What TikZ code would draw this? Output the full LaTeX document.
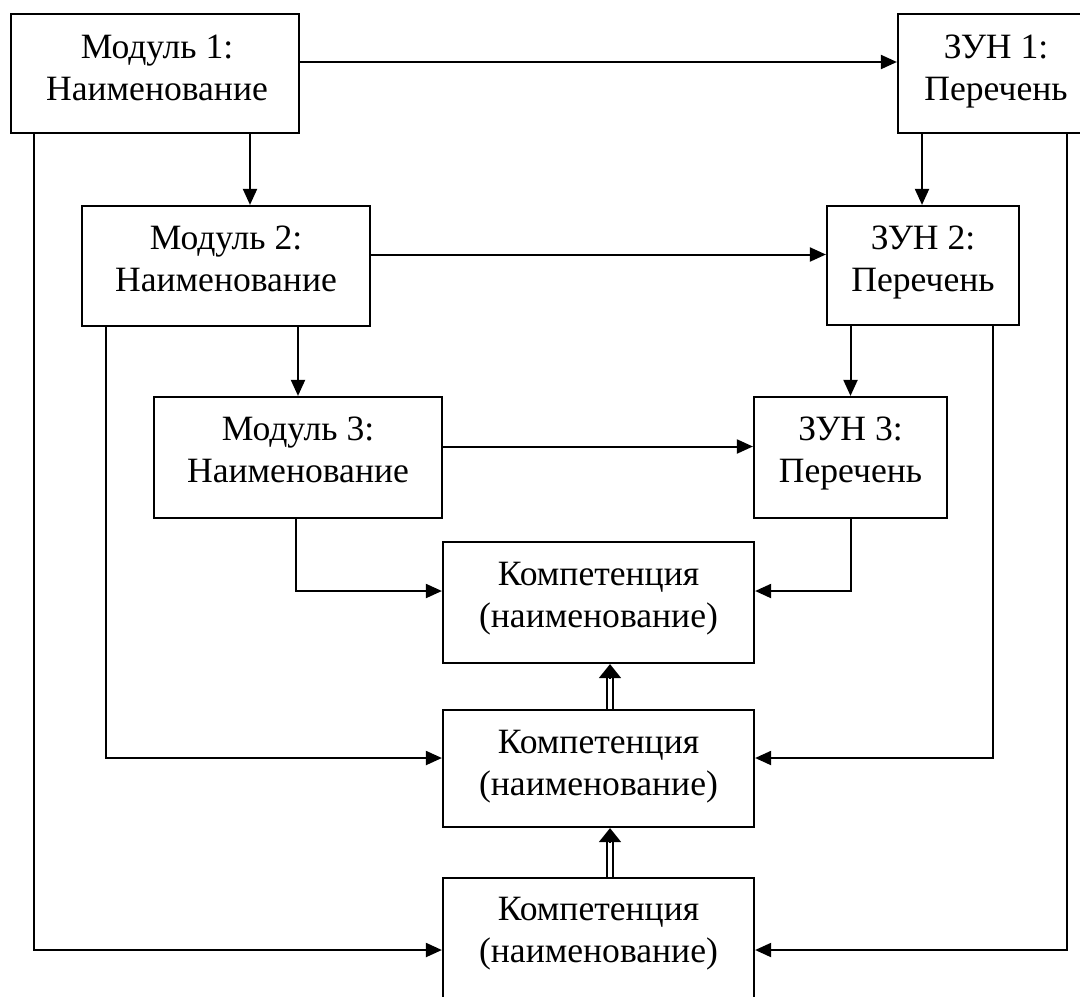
\documentclass[tikz,border=0pt]{standalone}
\usepackage{fontspec}
\setmainfont{Liberation Serif}
\usetikzlibrary{arrows.meta,calc}
\begin{document}
\begin{tikzpicture}[x=0.5pt,y=-0.5pt,
  box/.style={draw, line width=1.1pt, inner sep=0pt, rectangle},
  lbl/.style={anchor=base, align=center, inner sep=0pt, font=\fontsize{17.8}{21}\selectfont},
  arr/.style={line width=1pt, -{Triangle[length=8pt,width=7pt]}},
  dbl/.style={double, double distance=1.8pt, line width=0.9pt, shorten >=6.5pt},
  dtip/.style={line width=0.9pt, -{Triangle[length=7pt,width=11pt]}}
]
\useasboundingbox (0,0) rectangle (1080,996);
\clip (0,0) rectangle (1080,996);

% boxes
\node[box, minimum width=144pt, minimum height=59.5pt] (m1) at (155,73.5) {};
\node[box, minimum width=98pt, minimum height=59.5pt] (z1) at (996,73.5) {};
\node[box, minimum width=144pt, minimum height=60pt] (m2) at (226,266) {};
\node[box, minimum width=96pt, minimum height=59.5pt] (z2) at (923,265.5) {};
\node[box, minimum width=144pt, minimum height=60.5pt] (m3) at (298,457.5) {};
\node[box, minimum width=96.5pt, minimum height=60.5pt] (z3) at (850.5,457.5) {};
\node[box, minimum width=155.5pt, minimum height=60.5pt] (k1) at (598.5,602.5) {};
\node[box, minimum width=155.5pt, minimum height=58.5pt] (k2) at (598.5,768.5) {};
\node[box, minimum width=155.5pt, minimum height=61pt] (k3) at (598.5,939) {};

% texts (anchor base = baseline of the last line)
\node[lbl] (t1) at ([xshift=1pt,yshift=-43.75pt]m1.north) {Модуль 1:\\Наименование};
\node[lbl] (t2) at ([yshift=-43.75pt]z1.north) {ЗУН 1:\\Перечень};
\node[lbl] (t3) at ([yshift=-43.5pt]m2.north) {Модуль 2:\\Наименование};
\node[lbl] (t4) at ([yshift=-43.5pt]z2.north) {ЗУН 2:\\Перечень};
\node[lbl] (t5) at ([yshift=-43.5pt]m3.north) {Модуль 3:\\Наименование};
\node[lbl] (t6) at ([yshift=-43.5pt]z3.north) {ЗУН 3:\\Перечень};
\node[lbl] (t7) at ([yshift=-43.5pt]k1.north) {Компетенция\\(наименование)};
\node[lbl] (t8) at ([yshift=-43.5pt]k2.north) {Компетенция\\(наименование)};
\node[lbl] (t9) at ([yshift=-43pt]k3.north) {Компетенция\\(наименование)};

% horizontal arrows
\draw[arr] ([yshift=5.75pt]m1.east) -- ([yshift=5.75pt]z1.west);
\draw[arr] ([yshift=5.75pt]m2.east) -- ([yshift=5.5pt]z2.west);
\draw[arr] ([yshift=5.5pt]m3.east) -- ([yshift=5.5pt]z3.west);

% vertical chain arrows
\draw[arr] ([xshift=47.5pt]m1.south) -- ([xshift=12pt]m2.north);
\draw[arr] ([xshift=36pt]m2.south) -- (m3.north);
\draw[arr] ([xshift=-37pt]z1.south) -- ([xshift=-0.5pt]z2.north);
\draw[arr] ([xshift=-36.25pt]z2.south) -- (z3.north);

% to competences
\draw[arr] ([xshift=-1pt]m3.south) |- ([yshift=5.75pt]k1.west);
\draw[arr] ([xshift=0.25pt]z3.south) |- ([yshift=5.75pt]k1.east);
\draw[arr] ([xshift=-60pt]m2.south) |- ([yshift=5.25pt]k2.west);
\draw[arr] ([xshift=35pt]z2.south) |- ([yshift=5.25pt]k2.east);
\draw[arr] ([xshift=-60.5pt]m1.south) |- ([yshift=-5.5pt]k3.west);
\draw[arr] ([xshift=35.5pt]z1.south) |- ([yshift=-5.5pt]k3.east);

% double arrows
\draw[dbl] ([xshift=5.75pt]k2.north) -- ([xshift=5.75pt]k1.south);
\draw[dtip] ([xshift=5.75pt,yshift=-7.2pt]k1.south) -- ([xshift=5.75pt]k1.south);
\draw[dbl] ([xshift=5.75pt]k3.north) -- ([xshift=5.75pt]k2.south);
\draw[dtip] ([xshift=5.75pt,yshift=-7.2pt]k2.south) -- ([xshift=5.75pt]k2.south);
\end{tikzpicture}
\end{document}
